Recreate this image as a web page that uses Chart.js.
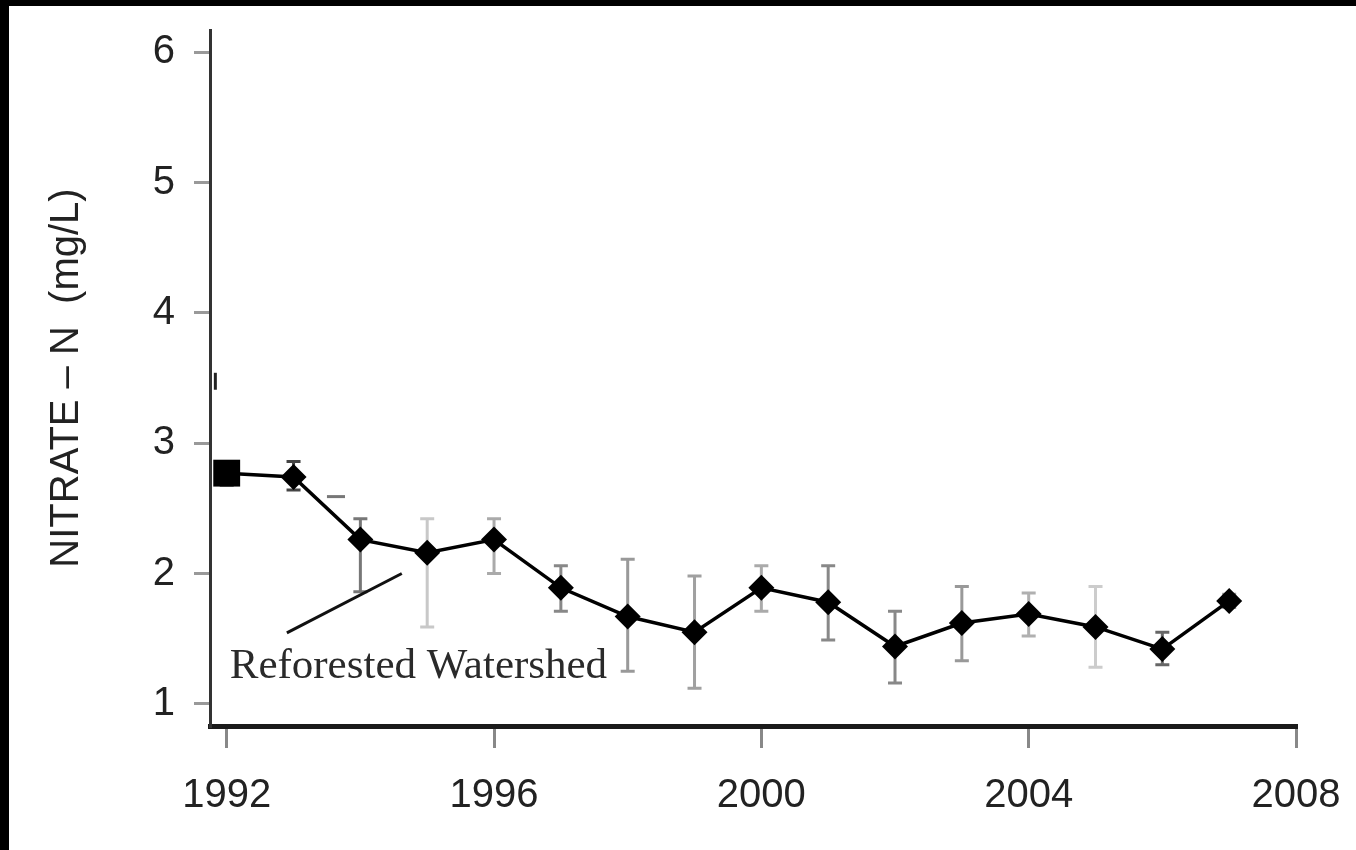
<!DOCTYPE html>
<html>
<head>
<meta charset="utf-8">
<script src="https://cdn.jsdelivr.net/npm/chart.js@4.4.1/dist/chart.umd.min.js"></script>
<style>
    html, body { margin: 0; padding: 0; background: #000; width: 1356px; height: 850px; overflow: hidden; }
    #frame { position: absolute; left: 9px; top: 6px; width: 1347px; height: 844px; background: #fff; }
</style>
</head>
<body>
<div id="frame"><canvas id="nitrateChart" width="1347" height="844"></canvas></div>
<script>
// data
const years = [1992, 1993, 1994, 1995, 1996, 1997, 1998, 1999, 2000, 2001, 2002, 2003, 2004, 2005, 2006, 2007];
const nitrate = [2.77, 2.74, 2.26, 2.16, 2.26, 1.89, 1.67, 1.55, 1.89, 1.78, 1.44, 1.62, 1.69, 1.59, 1.42, 1.79];
const errHigh = [2.86, 2.86, 2.42, 2.42, 2.42, 2.06, 2.11, 1.98, 2.06, 2.06, 1.71, 1.90, 1.85, 1.90, 1.55, 1.84];
const errLow = [2.68, 2.64, 1.86, 1.59, 2.00, 1.71, 1.25, 1.12, 1.71, 1.49, 1.16, 1.33, 1.52, 1.28, 1.30, 1.74];
const xTickValues = [1992, 1996, 2000, 2004, 2008];
const yTickValues = [1, 2, 3, 4, 5, 6];
const yAxisTitle = "NITRATE \u2013 N  (mg/L)";
const annotationText = "Reforested Watershed";

const errBarColors = ["#111", "#444", "#777", "#c8c8c8", "#aaa", "#888", "#999", "#a0a0a0",
    "#aaa", "#888", "#888", "#999", "#b0b0b0", "#cccccc", "#666", "#999"];
const tickFont = { family: "'Liberation Sans', Arial, sans-serif", size: 40 };

const errorBarPlugin = {
    id: "errorBars",
    beforeDatasetsDraw(chart) {
        const ctx = chart.ctx;
        const xs = chart.scales.x;
        const ys = chart.scales.y;
        ctx.save();
        ctx.lineWidth = 3;
        years.forEach(function (yr, i) {
            const px = xs.getPixelForValue(yr);
            const top = ys.getPixelForValue(errHigh[i]);
            const bot = ys.getPixelForValue(errLow[i]);
            ctx.strokeStyle = errBarColors[i];
            ctx.beginPath();
            ctx.moveTo(px, top);
            ctx.lineTo(px, bot);
            ctx.moveTo(px - 7, top);
            ctx.lineTo(px + 7, top);
            ctx.moveTo(px - 7, bot);
            ctx.lineTo(px + 7, bot);
            ctx.stroke();
        });
        ctx.restore();
    }
};

// label + pointer line, placed in data units
const annotationPlugin = {
    id: "watershedNote",
    afterDatasetsDraw(chart) {
        const ctx = chart.ctx;
        const xs = chart.scales.x;
        const ys = chart.scales.y;
        ctx.save();
        ctx.strokeStyle = "#111";
        ctx.lineWidth = 3;
        ctx.beginPath();
        ctx.moveTo(xs.getPixelForValue(1992.9), ys.getPixelForValue(1.545));
        ctx.lineTo(xs.getPixelForValue(1994.62), ys.getPixelForValue(2.0));
        ctx.stroke();
        // stray marks in the original scan
        ctx.strokeStyle = "#777";
        ctx.beginPath();
        ctx.moveTo(xs.getPixelForValue(1993.5), ys.getPixelForValue(2.59));
        ctx.lineTo(xs.getPixelForValue(1993.77), ys.getPixelForValue(2.59));
        ctx.stroke();
        ctx.strokeStyle = "#222";
        ctx.beginPath();
        ctx.moveTo(xs.getPixelForValue(1991.83), ys.getPixelForValue(3.41));
        ctx.lineTo(xs.getPixelForValue(1991.83), ys.getPixelForValue(3.54));
        ctx.stroke();

        ctx.fillStyle = "#2a2a2a";
        ctx.font = "43px 'Liberation Serif', 'Times New Roman', serif";
        ctx.textBaseline = "alphabetic";
        ctx.textAlign = "left";
        ctx.fillText(annotationText, xs.getPixelForValue(1992.045), ys.getPixelForValue(1.2));
        ctx.restore();
    }
};

const ctx = document.getElementById("nitrateChart").getContext("2d");
const chartObject = new Chart(ctx, {
    type: "line",
    data: {
        datasets: [{
            data: years.map(function (yr, i) { return { x: yr, y: nitrate[i] }; }),
            borderColor: "#000",
            borderWidth: 3.5,
            tension: 0,
            pointStyle: function (c) { return c.dataIndex === 0 ? "rect" : "rectRot"; },
            pointRadius: function (c) { return c.dataIndex === 0 ? 19 : 13; },
            pointBackgroundColor: "#000",
            pointBorderColor: "#000",
            pointBorderWidth: 0,
            clip: false
        }]
    },
    options: {
        responsive: false,
        animation: false,
        events: [],
        layout: { padding: { top: 24, right: 60, left: 0, bottom: 0 } },
        plugins: {
            legend: { display: false },
            tooltip: { enabled: false }
        },
        scales: {
            x: {
                type: "linear",
                min: 1991.75,
                max: 2008,
                afterBuildTicks: function (s) { s.ticks = xTickValues.map(function (v) { return { value: v }; }); },
                afterFit: function (s) {
                    s.height = 124;
                    s.paddingLeft = 0;
                    s.paddingRight = 0;
                },
                grid: { drawOnChartArea: false, tickLength: 22, color: "#888", lineWidth: 3 },
                border: { display: true, color: "#1a1a1a", width: 5 },
                ticks: {
                    font: tickFont,
                    color: "#222",
                    padding: 24,
                    maxRotation: 0,
                    autoSkip: false,
                    callback: function (v) { return String(v); }
                }
            },
            y: {
                type: "linear",
                min: 0.83,
                max: 6.17,
                afterBuildTicks: function (s) { s.ticks = yTickValues.map(function (v) { return { value: v }; }); },
                afterFit: function (s) {
                    s.width = 201;
                    s.paddingTop = 0;
                    s.paddingBottom = 0;
                },
                grid: { drawOnChartArea: false, tickLength: 16, color: "#999", lineWidth: 3 },
                border: { display: true, color: "#333", width: 3 },
                ticks: {
                    font: tickFont,
                    color: "#222",
                    padding: 19,
                    callback: function (v) { return String(v); }
                },
                title: {
                    display: true,
                    text: yAxisTitle,
                    color: "#222",
                    font: { family: "'Liberation Sans', Arial, sans-serif", size: 40, lineHeight: 1 },
                    padding: { top: 38, bottom: 0 }
                }
            }
        }
    },
    plugins: [errorBarPlugin, annotationPlugin]
});
</script>
</body>
</html>
